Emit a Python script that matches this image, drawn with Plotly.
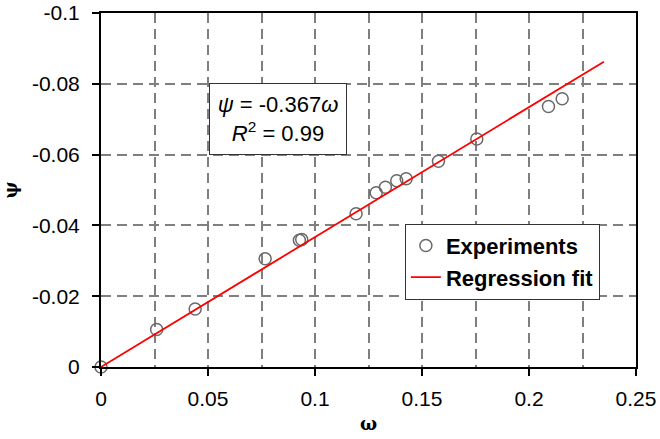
import plotly.graph_objects as go

omega_exp = [0.0, 0.0260, 0.0440, 0.0767, 0.0927, 0.0938, 0.1192, 0.1286, 0.1329,
             0.1382, 0.1426, 0.1577, 0.1756, 0.2091, 0.2155]
psi_exp = [0.0, -0.0106, -0.0164, -0.0306, -0.0358, -0.0360, -0.0433, -0.0492, -0.0508,
           -0.0526, -0.0532, -0.0581, -0.0644, -0.0736, -0.0758]

# Regression fit psi = slope * omega
slope = -0.367
fit_x = [0.0, 0.235]
fit_y = [slope * v for v in fit_x]

x_ticks = [0, 0.05, 0.1, 0.15, 0.2, 0.25]
x_ticklabels = ["0", "0.05", "0.1", "0.15", "0.2", "0.25"]
y_ticks = [0, -0.02, -0.04, -0.06, -0.08, -0.1]
y_ticklabels = ["0", "-0.02", "-0.04", "-0.06", "-0.08", "-0.1"]

FONT = "Liberation Sans, Arial, sans-serif"
grid_col = "#7f7f7f"

fig = go.Figure()
fig.add_trace(go.Scatter(
    x=omega_exp, y=psi_exp, mode="markers", name="Experiments",
    marker=dict(symbol="circle-open", size=12, color="#6a6a6a", line=dict(width=1.5)),
    cliponaxis=False,
))
fig.add_trace(go.Scatter(
    x=fit_x, y=fit_y, mode="lines", name="Regression fit",
    line=dict(color="#ff0000", width=1.8),
))

fig.add_annotation(
    x=0.0825, y=-0.0701, xref="x", yref="y", showarrow=False,
    text="<i>ψ</i> = -0.367<i>ω</i><br><i>R</i><sup>2</sup> = 0.99",
    font=dict(family=FONT, size=22, color="black"),
    bgcolor="white", bordercolor="#333333", borderwidth=1, borderpad=2,
    width=132, height=66, align="center",
)

fig.update_layout(
    width=660, height=439,
    margin=dict(l=101, r=24, t=13, b=72, autoexpand=False),
    paper_bgcolor="white", plot_bgcolor="white",
    font=dict(family=FONT, size=21, color="black"),
    legend=dict(
        x=0.568, y=0.405, xanchor="left", yanchor="top",
        bgcolor="white", bordercolor="#333333", borderwidth=1,
        font=dict(family=FONT, size=22, color="black", weight="bold"),
        itemwidth=30, entrywidth=170,
    ),
    showlegend=True,
)

fig.update_xaxes(
    range=[0, 0.25], tickvals=x_ticks, ticktext=x_ticklabels,
    ticks="outside", ticklen=7, tickcolor="black", tickwidth=1.5,
    ticklabelstandoff=5, ticklabeloverflow="allow", automargin=False,
    showline=True, linecolor="black", linewidth=2, mirror=True,
    showgrid=False, zeroline=False,
    minor=dict(dtick=0.025, showgrid=True, gridcolor=grid_col, gridwidth=1.5,
               griddash="10px,6px", ticks=""),
    title=dict(text="<b>ω</b>", font=dict(family="DejaVu Serif, serif", size=18), standoff=8),
    tickfont=dict(size=21),
)
fig.update_yaxes(
    range=[0, -0.1], tickvals=y_ticks, ticktext=y_ticklabels,
    ticks="outside", ticklen=7, tickcolor="black", tickwidth=1.5,
    ticklabelstandoff=8, ticklabeloverflow="allow", automargin=False,
    showline=True, linecolor="black", linewidth=2, mirror=True,
    showgrid=True, gridcolor=grid_col, gridwidth=1.5, griddash="10px,6px",
    zeroline=False,
    title=dict(text="<b>ψ</b>", font=dict(family="DejaVu Serif, serif", size=18), standoff=10),
    tickfont=dict(size=21),
)

fig.write_html("out.html")
